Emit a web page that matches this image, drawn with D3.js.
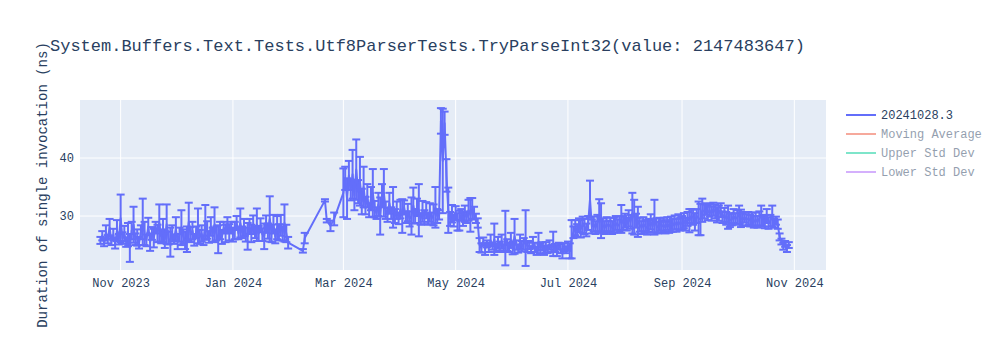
<!DOCTYPE html>
<html><head><meta charset="utf-8">
<script src="https://cdn.jsdelivr.net/npm/d3@7"></script>
<style>body{margin:0;background:#fff}svg{display:block}</style>
</head><body><div id="chart"></div>
<script>
const title = "System.Buffers.Text.Tests.Utf8ParserTests.TryParseInt32(value: 2147483647)";
const yTitle = "Duration of single invocation (ns)";
const legendNames = ["20241028.3", "Moving Average", "Upper Std Dev", "Lower Std Dev"];
const legendColors = ["#636efa", "#EF553B", "#00cc96", "#ab63fa"];
const legendVisible = [true, false, false, false];
const yTicks = [30, 40];
const xTickDates = ["2023-11-01","2024-01-01","2024-03-01","2024-05-01","2024-07-01","2024-09-01","2024-11-01"];

const dates = [
"2023-10-21","2023-10-22","2023-10-23","2023-10-24","2023-10-25","2023-10-26","2023-10-27","2023-10-28","2023-10-29","2023-10-30","2023-10-31",
"2023-11-01","2023-11-02","2023-11-03","2023-11-04","2023-11-05","2023-11-06","2023-11-07","2023-11-08","2023-11-09","2023-11-10",
"2023-11-11","2023-11-12","2023-11-13","2023-11-14","2023-11-15","2023-11-16","2023-11-17","2023-11-18","2023-11-19","2023-11-20",
"2023-11-21","2023-11-22","2023-11-23","2023-11-24","2023-11-25","2023-11-26","2023-11-27","2023-11-28","2023-11-29","2023-11-30",
"2023-12-01","2023-12-02","2023-12-03","2023-12-04","2023-12-05","2023-12-06","2023-12-07","2023-12-08","2023-12-09","2023-12-10",
"2023-12-11","2023-12-12","2023-12-13","2023-12-14","2023-12-15","2023-12-16","2023-12-17","2023-12-18","2023-12-19","2023-12-20",
"2023-12-21","2023-12-22","2023-12-23","2023-12-24","2023-12-25","2023-12-26","2023-12-27","2023-12-28","2023-12-29","2023-12-30","2023-12-31",
"2024-01-01","2024-01-02","2024-01-03","2024-01-04","2024-01-05","2024-01-06","2024-01-07","2024-01-08","2024-01-09","2024-01-10",
"2024-01-11","2024-01-12","2024-01-13","2024-01-14","2024-01-15","2024-01-16","2024-01-17","2024-01-18","2024-01-19","2024-01-20",
"2024-01-21","2024-01-22","2024-01-23","2024-01-24","2024-01-25","2024-01-26","2024-01-27","2024-01-28","2024-01-29","2024-01-30","2024-01-31",
"2024-02-08","2024-02-09","2024-02-20","2024-02-21","2024-02-23","2024-02-25",
"2024-03-01","2024-03-02","2024-03-03","2024-03-04","2024-03-05","2024-03-06","2024-03-07","2024-03-08","2024-03-09","2024-03-10",
"2024-03-11","2024-03-12","2024-03-13","2024-03-14","2024-03-15","2024-03-16","2024-03-17","2024-03-18","2024-03-19","2024-03-20",
"2024-03-21","2024-03-22","2024-03-23","2024-03-24","2024-03-25","2024-03-26","2024-03-27","2024-03-28","2024-03-29","2024-03-30","2024-03-31",
"2024-04-01","2024-04-02","2024-04-03","2024-04-04","2024-04-05","2024-04-06","2024-04-07","2024-04-08","2024-04-09","2024-04-10",
"2024-04-11","2024-04-12","2024-04-13","2024-04-14","2024-04-15","2024-04-16","2024-04-17","2024-04-18","2024-04-19","2024-04-20",
"2024-04-21","2024-04-22","2024-04-23","2024-04-24","2024-04-25","2024-04-26","2024-04-27","2024-04-28","2024-04-29","2024-04-30",
"2024-05-01","2024-05-02","2024-05-03","2024-05-04","2024-05-05","2024-05-06","2024-05-07","2024-05-08","2024-05-09","2024-05-10",
"2024-05-11","2024-05-12","2024-05-13","2024-05-14","2024-05-15","2024-05-16","2024-05-17","2024-05-18","2024-05-19","2024-05-20",
"2024-05-21","2024-05-22","2024-05-23","2024-05-24","2024-05-25","2024-05-26","2024-05-27","2024-05-28","2024-05-29","2024-05-30","2024-05-31",
"2024-06-01","2024-06-02","2024-06-03","2024-06-04","2024-06-05","2024-06-06","2024-06-07","2024-06-08","2024-06-09","2024-06-10",
"2024-06-11","2024-06-12","2024-06-13","2024-06-14","2024-06-15","2024-06-16","2024-06-17","2024-06-18","2024-06-19","2024-06-20",
"2024-06-21","2024-06-22","2024-06-23","2024-06-24","2024-06-25","2024-06-26","2024-06-27","2024-06-28","2024-06-29","2024-06-30",
"2024-07-01","2024-07-02","2024-07-03","2024-07-04","2024-07-05","2024-07-06","2024-07-07","2024-07-08","2024-07-09","2024-07-10",
"2024-07-11","2024-07-12","2024-07-13","2024-07-14","2024-07-15","2024-07-16","2024-07-17","2024-07-18","2024-07-19","2024-07-20",
"2024-07-21","2024-07-22","2024-07-23","2024-07-24","2024-07-25","2024-07-26","2024-07-27","2024-07-28","2024-07-29","2024-07-30","2024-07-31",
"2024-08-01","2024-08-02","2024-08-03","2024-08-04","2024-08-05","2024-08-06","2024-08-07","2024-08-08","2024-08-09","2024-08-10",
"2024-08-11","2024-08-12","2024-08-13","2024-08-14","2024-08-15","2024-08-16","2024-08-17","2024-08-18","2024-08-19","2024-08-20",
"2024-08-21","2024-08-22","2024-08-23","2024-08-24","2024-08-25","2024-08-26","2024-08-27","2024-08-28","2024-08-29","2024-08-30","2024-08-31",
"2024-09-01","2024-09-02","2024-09-03","2024-09-04","2024-09-05","2024-09-06","2024-09-07","2024-09-08","2024-09-09","2024-09-10",
"2024-09-11","2024-09-12","2024-09-13","2024-09-14","2024-09-15","2024-09-16","2024-09-17","2024-09-18","2024-09-19","2024-09-20",
"2024-09-21","2024-09-22","2024-09-23","2024-09-24","2024-09-25","2024-09-26","2024-09-27","2024-09-28","2024-09-29","2024-09-30",
"2024-10-01","2024-10-02","2024-10-03","2024-10-04","2024-10-05","2024-10-06","2024-10-07","2024-10-08","2024-10-09","2024-10-10",
"2024-10-11","2024-10-12","2024-10-13","2024-10-14","2024-10-15","2024-10-16","2024-10-17","2024-10-18","2024-10-19","2024-10-20",
"2024-10-21","2024-10-22","2024-10-23","2024-10-24","2024-10-25","2024-10-26","2024-10-27","2024-10-28","2024-10-29"
];

const values = [
25.8,26.6,25.3,27.2,26.0,28.0,25.6,26.8,25.2,27.5,26.0,
29.6,26.2,27.0,25.5,26.8,24.5,27.5,28.5,26.0,26.3,
25.4,27.2,29.0,27.0,25.8,28.2,25.5,27.0,26.2,28.0,
27.0,28.8,26.5,27.5,26.0,28.6,26.2,25.5,27.0,26.0,
27.8,25.6,26.8,28.0,26.5,25.8,26.0,29.0,26.8,27.5,
25.9,27.2,28.3,26.4,27.0,25.8,28.9,27.6,26.4,28.2,
26.8,28.5,27.0,26.0,27.5,26.4,28.0,27.0,28.5,27.2,28.0,
26.8,27.5,28.8,27.0,28.8,27.2,28.0,26.8,26.5,28.2,
27.0,28.5,27.2,28.5,27.0,28.4,26.8,26.5,28.6,27.4,
29.5,27.0,28.6,26.5,28.0,27.2,28.4,27.0,28.8,27.0,25.4,
24.0,26.2,32.7,29.2,28.3,29.5,
34.0,36.5,33.0,37.0,34.5,37.2,33.5,38.0,34.2,36.0,
32.5,35.0,31.8,33.5,31.0,33.0,34.0,31.2,30.5,32.0,
30.0,33.5,34.0,31.0,30.2,32.2,30.5,31.5,30.0,31.0,29.6,
31.2,30.0,31.5,29.8,30.6,29.5,30.0,31.8,30.0,31.5,
31.0,29.5,30.8,29.8,31.0,29.5,30.6,29.6,30.2,31.5,
30.0,30.2,46.4,39.5,46.0,37.0,31.0,29.5,30.4,29.2,
30.5,29.0,29.2,30.2,29.5,30.4,29.8,31.0,30.2,31.3,
30.5,29.6,28.8,25.0,24.5,25.6,24.3,25.2,24.6,25.8,
24.8,26.0,24.5,25.4,24.8,25.6,24.4,26.2,25.0,24.6,25.8,
24.5,26.5,25.0,24.4,25.6,24.8,25.2,26.2,24.6,25.0,
24.2,25.4,24.6,24.0,25.6,24.4,24.8,24.1,24.6,24.2,
25.0,24.4,25.2,24.5,24.0,24.8,24.4,24.0,24.6,24.2,
24.8,24.0,26.0,27.2,28.0,27.5,28.4,27.8,28.5,28.2,
27.6,28.8,32.9,28.2,28.6,28.0,28.8,30.0,29.2,28.4,
28.0,28.6,28.2,28.5,28.0,28.4,28.8,28.3,28.6,29.5,28.8,
29.2,28.6,29.6,29.0,30.5,29.8,29.2,29.0,28.5,28.0,
28.6,28.2,28.0,28.4,29.0,28.2,29.8,28.4,28.0,28.6,
28.2,28.5,28.0,28.7,28.2,28.6,28.4,28.9,28.4,29.0,28.6,
28.8,29.2,28.6,29.5,29.2,30.0,29.8,29.0,30.0,29.6,
29.4,31.0,30.8,31.2,30.6,31.0,30.4,31.2,30.8,30.2,
30.5,31.0,29.8,30.2,29.6,29.8,29.3,29.4,30.0,29.5,
29.8,30.2,29.6,29.4,29.8,29.3,29.6,29.2,29.5,29.0,
29.4,29.0,29.6,30.0,29.2,29.0,30.0,28.8,29.2,30.0,
28.8,29.2,28.6,26.4,25.6,24.8,25.2,24.4,25.0
];

const errors = [
0.6,0.8,0.5,1.2,0.7,1.5,0.6,1.0,0.8,1.8,0.9,
4.1,1.0,1.3,0.8,2.0,2.4,1.5,3.1,1.0,1.4,
1.0,1.2,4.0,2.0,1.0,1.5,1.5,1.1,1.6,1.0,
1.5,3.2,1.2,2.0,1.5,3.4,1.1,2.5,1.4,0.8,
2.0,1.3,1.2,3.0,1.2,1.5,2.2,3.3,1.3,1.5,
1.0,1.0,3.0,1.2,1.4,0.8,3.0,1.5,1.0,1.6,
1.2,3.0,1.2,2.4,1.5,1.2,1.0,1.5,1.3,1.4,1.0,
1.2,1.5,1.2,1.0,2.5,1.0,1.5,1.2,2.3,1.3,
1.5,1.6,1.0,2.8,1.3,1.2,1.1,2.2,1.5,1.3,
3.9,1.5,1.6,1.2,2.0,1.4,1.8,1.2,3.2,1.5,1.0,
0.3,0.9,0.2,0.3,0.9,1.1,
4.2,2.0,3.5,2.5,1.8,4.2,2.5,5.2,2.0,4.2,
2.2,3.5,1.5,2.0,1.2,2.0,4.1,1.4,1.0,2.0,
3.2,2.0,4.1,1.5,1.2,1.8,1.0,3.5,1.2,1.5,1.0,
1.6,2.9,1.2,1.0,1.5,1.3,3.2,3.1,1.2,1.5,
4.5,1.0,1.8,1.2,1.4,1.0,1.6,1.0,1.8,3.5,
1.2,0.8,2.2,9.0,2.0,2.8,3.9,1.2,1.5,1.0,
1.2,1.5,1.7,1.0,1.2,1.4,1.0,1.8,2.9,1.8,
1.1,0.8,0.8,1.2,0.8,0.7,1.0,0.6,0.8,1.0,
0.6,2.7,0.7,1.0,0.8,1.2,0.6,4.7,1.0,0.8,1.3,
1.1,3.0,0.8,0.7,1.2,0.9,1.0,4.8,0.8,0.7,
0.6,1.0,0.8,0.7,1.5,0.8,0.7,0.8,0.9,0.6,
0.8,0.6,2.1,0.7,0.9,0.6,0.8,1.3,0.7,0.6,
0.8,1.3,3.3,1.0,1.3,1.1,1.2,1.5,1.4,1.3,
1.1,1.2,3.2,1.2,1.3,1.1,1.4,2.9,3.0,1.2,
1.1,1.2,1.0,1.2,1.1,1.3,1.2,1.1,1.3,2.4,1.2,
1.2,1.1,1.4,1.2,3.5,3.0,1.2,2.6,1.2,1.1,
1.2,1.1,1.2,1.1,1.3,1.1,3.0,1.2,1.0,1.1,
1.1,1.2,1.0,1.1,1.1,1.3,1.1,1.2,1.1,1.3,1.1,
1.2,1.3,1.1,1.2,2.0,1.2,1.3,1.5,1.2,2.9,
2.7,2.0,1.2,1.0,1.3,1.1,1.2,1.1,1.2,1.3,
1.3,1.2,1.0,1.2,1.1,2.0,1.2,1.0,1.2,1.0,
1.2,1.6,1.5,1.1,0.9,1.0,1.1,1.0,1.1,1.0,
1.2,1.0,1.2,1.8,1.0,1.1,1.2,1.0,1.0,1.8,
0.8,0.7,0.8,0.6,0.5,0.6,0.5,0.6,0.5
];

const W = 1000, H = 350;
const m = {left: 80, right: 174, top: 100, bottom: 80};
const font = "'Liberation Mono','Courier New',monospace";
const textColor = "#2a3f5f";

const parse = d3.utcParse("%Y-%m-%d");
const data = dates.map((d, i) => ({date: parse(d), v: values[i], e: errors[i]}));

const svg = d3.select("#chart").append("svg").attr("width", W).attr("height", H);

const x = d3.scaleUtc()
  .domain([new Date(Date.UTC(2023, 9, 9, 22)), new Date(Date.UTC(2024, 10, 18, 5))])
  .range([m.left, W - m.right]);
const y = d3.scaleLinear().domain([20.7, 50]).range([H - m.bottom, m.top]);

svg.append("rect").attr("x", m.left).attr("y", m.top)
  .attr("width", W - m.left - m.right).attr("height", H - m.top - m.bottom)
  .attr("fill", "#E5ECF6");

// grid
const xt = xTickDates.map(parse);
svg.append("g").selectAll("line").data(xt).join("line")
  .attr("x1", d => x(d)).attr("x2", d => x(d))
  .attr("y1", m.top).attr("y2", H - m.bottom)
  .attr("stroke", "#fff").attr("stroke-width", 1);
svg.append("g").selectAll("line").data(yTicks).join("line")
  .attr("x1", m.left).attr("x2", W - m.right)
  .attr("y1", d => y(d)).attr("y2", d => y(d))
  .attr("stroke", "#fff").attr("stroke-width", 1);

// axes
const xAxis = svg.append("g").attr("transform", `translate(0,${H - m.bottom})`)
  .call(d3.axisBottom(x).tickValues(xt).tickFormat(d3.utcFormat("%b %Y")).tickSize(0).tickPadding(8));
const yAxis = svg.append("g").attr("transform", `translate(${m.left},0)`)
  .call(d3.axisLeft(y).tickValues(yTicks).tickSize(0).tickPadding(6));
[xAxis, yAxis].forEach(g => {
  g.select(".domain").remove();
  g.selectAll("text").attr("font-family", font).attr("font-size", 12).attr("fill", textColor);
});

// clip
svg.append("clipPath").attr("id", "clip").append("rect")
  .attr("x", m.left).attr("y", m.top)
  .attr("width", W - m.left - m.right).attr("height", H - m.top - m.bottom);
const plot = svg.append("g").attr("clip-path", "url(#clip)");

const col = legendColors[0];
const eb = plot.append("g").attr("stroke", col).attr("stroke-width", 2);
data.forEach(d => {
  const px = x(d.date), y1 = y(d.v + d.e), y2 = y(d.v - d.e);
  eb.append("line").attr("x1", px).attr("x2", px).attr("y1", y1).attr("y2", y2);
  eb.append("line").attr("x1", px - 4).attr("x2", px + 4).attr("y1", y1).attr("y2", y1);
  eb.append("line").attr("x1", px - 4).attr("x2", px + 4).attr("y1", y2).attr("y2", y2);
});
plot.append("path").datum(data)
  .attr("d", d3.line().x(d => x(d.date)).y(d => y(d.v)))
  .attr("fill", "none").attr("stroke", col).attr("stroke-width", 2).attr("stroke-linejoin", "round");

// titles
svg.append("text").attr("x", 50).attr("y", 51).text(title)
  .attr("font-family", font).attr("font-size", 17).attr("fill", textColor);
svg.append("text").attr("transform", `translate(47,${(m.top + H - m.bottom) / 2}) rotate(-90)`)
  .attr("text-anchor", "middle").text(yTitle)
  .attr("font-family", font).attr("font-size", 14).attr("fill", textColor);

// legend
const lg = svg.append("g");
legendNames.forEach((n, i) => {
  const ly = 115 + i * 19;
  const g = lg.append("g").attr("opacity", legendVisible[i] ? 1 : 0.5);
  g.append("line").attr("x1", 846).attr("x2", 876).attr("y1", ly).attr("y2", ly)
    .attr("stroke", legendColors[i]).attr("stroke-width", 2);
  g.append("text").attr("x", 881).attr("y", ly + 4).text(n)
    .attr("font-family", font).attr("font-size", 12).attr("fill", textColor);
});
</script>
</body></html>
